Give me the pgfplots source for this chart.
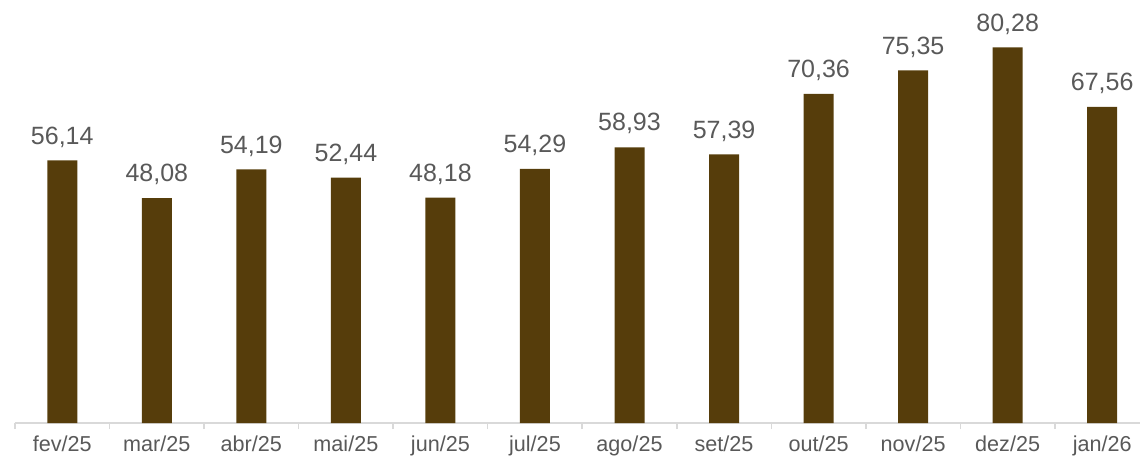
\documentclass[border=0pt]{standalone}
\usepackage{pgfplots}
\pgfplotsset{compat=1.18}
\usepackage{fontspec}
\setmainfont{Liberation Sans}
\definecolor{barbrown}{HTML}{563D0B}
\definecolor{txtgray}{HTML}{595959}
\definecolor{axgray}{HTML}{D9D9D9}
\begin{document}
\begin{tikzpicture}
\begin{axis}[
    scale only axis,
    width=562.5pt, height=211.5pt,
    xmin=-0.5, xmax=11.4,
    ymin=0, ymax=90.4,
    axis x line*=bottom,
    axis y line=none,
    x axis line style={axgray, line width=0.8pt},
    xtick={0,...,11},
    xticklabels={fev/25,mar/25,abr/25,mai/25,jun/25,jul/25,ago/25,set/25,out/25,nov/25,dez/25,jan/26},
    major tick length=0pt,
    minor xtick={-0.5,0.5,...,11.5},
    minor tick length=3pt,
    tick align=outside,
    minor tick style={axgray, line width=0.8pt},
    x tick label style={font=\fontsize{10.8}{13}\selectfont, text=txtgray, yshift=-3pt},
    ybar, bar width=15pt,
    nodes near coords,
    nodes near coords style={font=\fontsize{12.5}{15}\selectfont, text=txtgray, anchor=south, yshift=3pt,
        /pgf/number format/.cd, use comma, fixed, fixed zerofill, precision=2, assume math mode=true},
    clip=false,
]
\addplot[fill=barbrown, draw=none] coordinates {
    (0,56.14) (1,48.08) (2,54.19) (3,52.44) (4,48.18) (5,54.29)
    (6,58.93) (7,57.39) (8,70.36) (9,75.35) (10,80.28) (11,67.56)
};
\end{axis}
\pgfresetboundingbox
\path (-7.5pt,-19.5pt) rectangle (562.5pt,211.5pt);
\end{tikzpicture}
\end{document}
